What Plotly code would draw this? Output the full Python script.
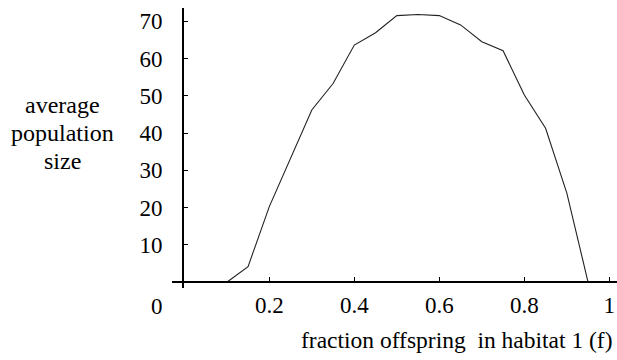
import plotly.graph_objects as go

# Data
f_values = [0.1, 0.15, 0.2, 0.25, 0.3, 0.35, 0.4, 0.45, 0.5, 0.55, 0.6, 0.65, 0.7, 0.75, 0.8, 0.85, 0.9, 0.95]
avg_pop = [0, 4.2, 20.3, 33.2, 46.2, 53.3, 63.6, 66.9, 71.5, 71.8, 71.5, 69.0, 64.5, 62.1, 50.2, 41.3, 23.9, 0]

x_tick_vals = [0.2, 0.4, 0.6, 0.8, 1.0]
x_tick_text = ["0.2", "0.4", "0.6", "0.8", "1"]
y_tick_vals = [10, 20, 30, 40, 50, 60, 70]
y_tick_text = ["10", "20", "30", "40", "50", "60", "70"]
y_title_lines = ["average", "population", "size"]
x_title = "fraction offspring&nbsp; in habitat 1 (f)"

FONT = "Liberation Serif, Times New Roman, serif"
TICK_SIZE = 23
TITLE_SIZE = 24

fig = go.Figure()
fig.add_trace(go.Scatter(
    x=f_values, y=avg_pop, mode="lines",
    line=dict(color="#222222", width=1.1),
    showlegend=False, hoverinfo="skip",
))

L, R, T, B = 172, 0, 8, 72
W, H = 617, 360
pw = W - L - R
ph = H - T - B

annotations = []
for i, line in enumerate(y_title_lines):
    yc = 133 + (i - 1) * 28.3
    annotations.append(dict(
        text=line, xref="paper", yref="paper",
        x=(62 - L) / pw, y=(288 - yc) / ph, xanchor="center", yanchor="middle",
        showarrow=False, font=dict(family=FONT, size=TITLE_SIZE, color="black")))
annotations.append(dict(
    text=x_title, xref="paper", yref="paper",
    x=1, xshift=-2, y=(288 - 340) / ph, xanchor="right", yanchor="middle",
    showarrow=False, font=dict(family=FONT, size=23.5, color="black")))
annotations.append(dict(
    text="0", xref="paper", yref="paper",
    x=(156.7 - L) / pw, y=(288 - 306) / ph, xanchor="center", yanchor="middle",
    showarrow=False, font=dict(family=FONT, size=TICK_SIZE, color="black")))

fig.update_layout(
    width=W, height=H,
    margin=dict(l=L, r=R, t=T, b=B),
    paper_bgcolor="white", plot_bgcolor="white",
    font=dict(family=FONT, size=TICK_SIZE, color="black"),
    xaxis=dict(
        range=[-0.0289, 1.018],
        anchor="free", position=(288 - 282.3) / ph,
        showline=True, linecolor="black", linewidth=2,
        showgrid=False, zeroline=False,
        ticks="inside", ticklen=4, tickwidth=1, tickcolor="black",
        tickvals=x_tick_vals, ticktext=x_tick_text,
        ticklabelstandoff=2,
        tickfont=dict(family=FONT, size=TICK_SIZE, color="black"),
    ),
    yaxis=dict(
        range=[-1.53, 73.54],
        anchor="free", position=(183 - L) / pw,
        showline=True, linecolor="black", linewidth=2,
        showgrid=False, zeroline=False,
        ticks="inside", ticklen=4, tickwidth=1, tickcolor="black",
        tickvals=y_tick_vals, ticktext=y_tick_text,
        ticklabelstandoff=15,
        tickfont=dict(family=FONT, size=TICK_SIZE, color="black"),
    ),
    annotations=annotations,
)

fig.write_html("out.html", config={"displayModeBar": False},
               post_script="document.body.style.margin='0';document.body.style.padding='0';")
